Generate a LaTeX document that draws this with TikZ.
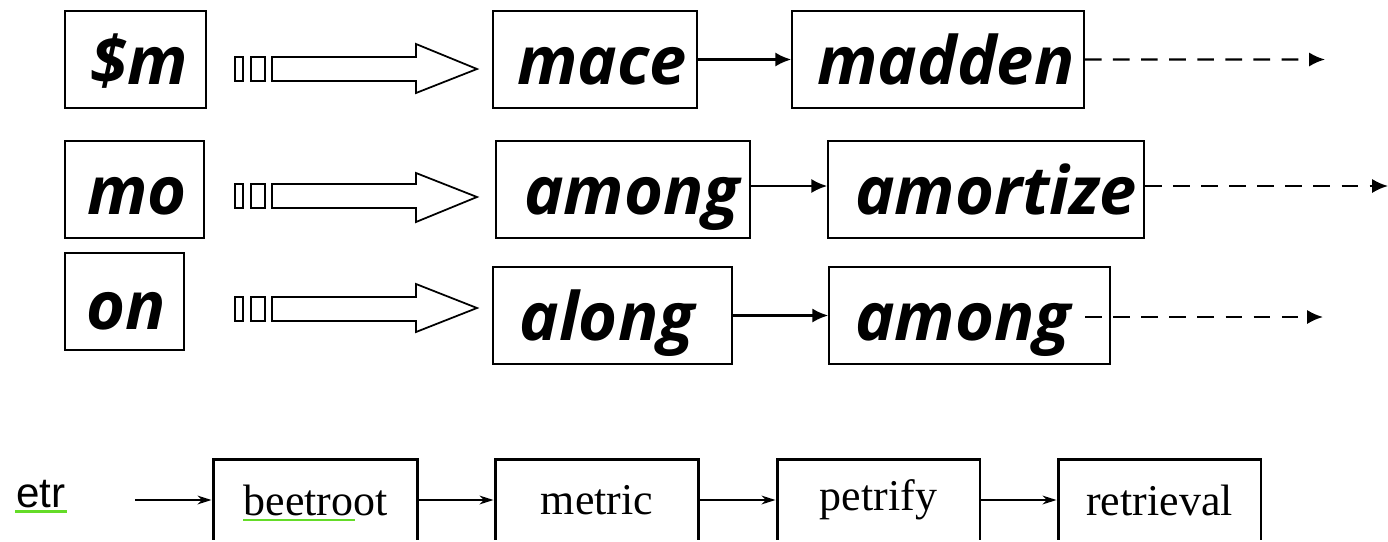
\documentclass[tikz,border=0pt]{standalone}
\usepackage{fontspec}
\setmainfont{Liberation Serif}
\newfontfamily\termfont{Open Sans}
\newfontfamily\etrfont{Liberation Sans}
\usetikzlibrary{arrows.meta,fit}
\definecolor{spellgreen}{RGB}{100,220,40}
\begin{document}
\begin{tikzpicture}[x=0.02cm,y=-0.02cm,
  box/.style={draw, line width=0.9pt, inner sep=0pt},
  term/.style={inner sep=0pt, anchor=base, font=\termfont\bfseries\itshape\fontsize{38}{42}\selectfont},
  tofu/.style={draw, line width=1.1pt},
  fat/.style={draw, line width=1.0pt, line join=miter},
  link/.style={line width=1.3pt, -{Latex[length=9pt,width=8pt]}},
  dlink/.style={line width=1.3pt, dash pattern=on 9.5pt off 6.5pt, -{Latex[length=9pt,width=8pt]}},
  pbox/.style={draw, line width=1.7pt, inner sep=0pt, font=\fontsize{25}{28}\selectfont},
  plink/.style={line width=1.1pt, -{Stealth[length=8pt,width=5pt]}}
]
\useasboundingbox (0,0) rectangle (1388,541);
\clip (-5,-5) rectangle (1393,539.5);

% ---------- row 1 ----------
\node[box, fit={(65,11) (206,108)}] (sm) {};
\node[term] (tsm) at (139,84) {\$m};
\draw[tofu] (235,57) rectangle (243,81);
\draw[tofu] (251,57) rectangle (265,81);
\draw[fat] (272,57) -- (416,57) -- (416,44) -- (477,69) -- (416,93) -- (416,81) -- (272,81) -- cycle;
\node[box, fit={(493,11) (697,108)}] (mace) {};
\node[term] (tmace) at (602,84) {mace};
\node[box, fit={(792,11) (1084,108)}] (madden) {};
\node[term] (tmadden) at (946,84) {madden};
\coordinate (e1) at (1325,59.5);
\draw[link] (mace) -- (madden);
\draw[dlink] (madden.east) -- (e1);

% ---------- row 2 ----------
\node[box, fit={(65,141) (204,238)}] (mo) {};
\node[term] (tmo) at (137,214) {mo};
\draw[tofu] (235,184) rectangle (243,208);
\draw[tofu] (251,184) rectangle (265,208);
\draw[fat] (272,184) -- (416,184) -- (416,173) -- (477,197) -- (416,222) -- (416,208) -- (272,208) -- cycle;
\node[box, fit={(496,141) (750,238)}] (among1) {};
\node[term] (tamong1) at (632,214) {among};
\node[box, fit={(828,141) (1144,238)}] (amortize) {};
\node[term] (tamortize) at (996,214) {amortize};
\coordinate (e2) at (1388,186);
\draw[link] (among1.east |- 0,186) -- (amortize.west |- 0,186);
\draw[dlink] (amortize.east |- e2) -- (e2);

% ---------- row 3 ----------
\node[box, fit={(65,253) (184,350)}] (on) {};
\node[term] (ton) at (126,329) {on};
\draw[tofu] (235,297) rectangle (243,321);
\draw[tofu] (251,297) rectangle (265,321);
\draw[fat] (272,297) -- (416,297) -- (416,284) -- (477,308) -- (416,332) -- (416,321) -- (272,321) -- cycle;
\node[box, fit={(493,267) (732,364)}] (along) {};
\node[term] (talong) at (607,340) {along};
\node[box, fit={(829,267) (1110,364)}] (among2) {};
\node[term] (tamong2) at (963,340) {among};
\coordinate (s3) at (1085,317);
\coordinate (e3) at (1323,317);
\draw[link] (along) -- (among2);
\draw[dlink] (s3) -- (e3);

% ---------- bottom row ----------
\node[inner sep=0pt, anchor=base, font=\etrfont\fontsize{24}{28}\selectfont] (etr) at (41,507) {etr};
\draw[spellgreen, line width=1.7pt] (15,511) -- (67,511);
\node[pbox, minimum width=4.1cm, minimum height=1.64cm] (beetroot) at (315.5,500) {beetroot};
\draw[spellgreen, line width=1.1pt] (243,520) -- (355,520);
\node[pbox, minimum width=4.08cm, minimum height=1.64cm] (metric) at (597,500) {metric};
\node[pbox, minimum width=4.06cm, minimum height=1.64cm] (petrify) at (878.5,500) {petrify};
\node[pbox, minimum width=4.06cm, minimum height=1.64cm] (retrieval) at (1159.5,500) {retrieval};
\coordinate (s4) at (135,500);
\draw[plink] (s4) -- (beetroot);
\draw[plink] (beetroot) -- (metric);
\draw[plink] (metric) -- (petrify);
\draw[plink] (petrify) -- (retrieval);
\end{tikzpicture}
\end{document}
